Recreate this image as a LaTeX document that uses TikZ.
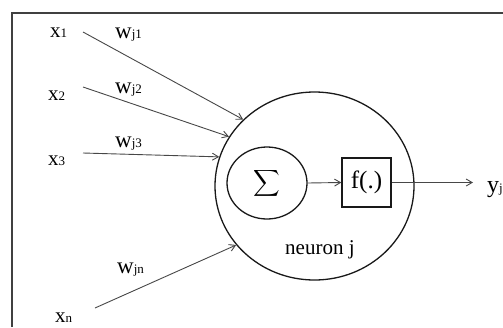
\documentclass[tikz,border=0pt]{standalone}
\usepackage{fontspec}
\setmainfont{Liberation Serif}
\usetikzlibrary{shapes.geometric,arrows.meta}

% small index set at the baseline after a large letter
\newcommand\smallidx[1]{{\fontsize{13}{15}\selectfont #1}}

\begin{document}
\begin{tikzpicture}[x=1pt,y=-1pt,
  txt/.style={anchor=base west, inner sep=0pt, font=\fontsize{21}{25}\selectfont},
  wtxt/.style={txt, font=\fontsize{23}{27}\selectfont},
  link/.style={draw=black!72, line width=0.9pt, -{Straight Barb[length=6pt,width=7pt]}},
  outline/.style={draw=black!90, line width=1.3pt},
]
\useasboundingbox (0,0) rectangle (503,327);

% frame on the top and left sides
\draw[line width=1.2pt, black!75] (12,327) -- (12,13) -- (503,13);

% neuron body and its two parts
\node[outline, ellipse, minimum width=199pt, minimum height=188pt, inner sep=0pt] (neuron) at (314.5,186) {};
\node[outline, ellipse, minimum width=80pt, minimum height=72pt, inner sep=0pt] (sum) at (267,183)
  {\scalebox{1.85}{$\displaystyle\sum$}};
\node[outline, rectangle, minimum width=49pt, minimum height=49pt, inner sep=0pt] (act) at (366.5,182.5)
  {\fontsize{25}{29}\selectfont f(.)};
\node[txt] (name) at (285,254) {neuron j};

% inputs
\node[txt] (x1) at (50,37) {x\smallidx{1}};
\node[txt] (x2) at (48,100) {x\smallidx{2}};
\node[txt] (x3) at (48,165) {x\smallidx{3}};
\node[txt] (xn) at (55,322) {x\smallidx{n}};

% weights
\node[wtxt] (w1) at (115,38) {w\smallidx{j1}};
\node[wtxt] (w2) at (115,93) {w\smallidx{j2}};
\node[wtxt] (w3) at (115,147) {w\smallidx{j3}};
\node[wtxt] (wn) at (117,273) {w\smallidx{jn}};

% start points of the input lines
\coordinate (s1) at (83,32);
\coordinate (s2) at (83,87);
\coordinate (s3) at (83,153);
\coordinate (sn) at (95,308);

\draw[link] (s1) -- (neuron.137.3);
\draw[link] (s2) -- (neuron.150.3);
\draw[link] (s3) -- (neuron.163.7);
\draw[link] (sn) -- (neuron.217.6);

% signal path through the neuron to the output
\draw[link] (sum.east) -- (act.west);
\coordinate (outend) at (473,182.5);
\draw[link] (act.east) -- (outend);
\node[txt, font=\fontsize{24}{28}\selectfont] (y) at (487,192) {y\smallidx{j}};
\end{tikzpicture}
\end{document}
